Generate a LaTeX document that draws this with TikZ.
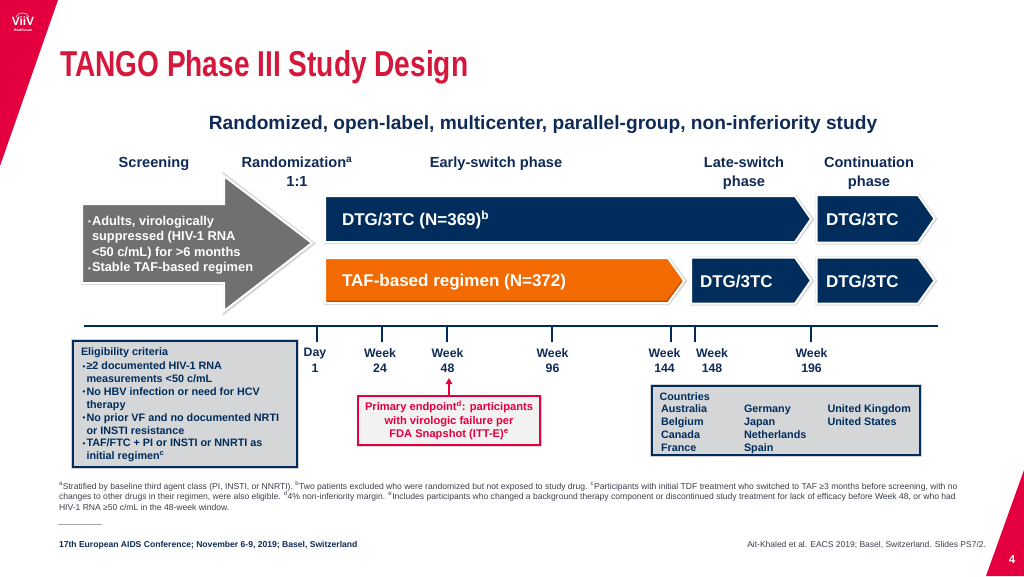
\documentclass[tikz,border=0pt]{standalone}
\usepackage{fontspec}
\usepackage{graphicx}
\setmainfont{Liberation Sans}
\usetikzlibrary{arrows.meta,positioning}
\definecolor{navy}{HTML}{002D5C}
\definecolor{hdr}{HTML}{0F2A55}
\definecolor{crim}{HTML}{E4003F}
\definecolor{titlered}{HTML}{D5173C}
\definecolor{boxgrey}{HTML}{D5D6D8}
\definecolor{arrowgrey}{HTML}{707070}
\definecolor{orng}{HTML}{F26A00}
\definecolor{note}{HTML}{3A3F4A}
\newcommand{\fs}[2]{\fontsize{#1}{#2}\selectfont}
\newcommand{\bul}{\llap{\raisebox{0.8pt}{\fs{8}{8}•}\hspace{1pt}}}
\tikzset{
  x=1pt,y=-1pt,
  every node/.style={inner sep=0pt,outer sep=0pt},
  hd/.style={font=\bfseries\fs{14.6}{18.5},text=hdr,align=center},
  tk/.style={font=\bfseries\fs{12.3}{15.2},text=hdr,align=center,anchor=north},
  armlabel/.style={font=\bfseries\fs{17}{18},text=white,anchor=west},
  elig/.style={font=\bfseries\fs{10.8}{12.85},text=navy,align=left,anchor=north west},
  fn/.style={font=\fs{8.56}{10.45},text=note,align=left,anchor=north west},
  pent/.style={fill=navy,draw=white,line width=2pt,line join=miter},
  shad/.style={fill=black!35,draw=black!25,line width=3.2pt,opacity=.6},
  tick/.style={draw=navy,line width=2.2pt},
  infobox/.style={fill=boxgrey,draw=navy,line width=1.8pt},
  boxshad/.style={fill=black!40,draw=black!25,line width=2.5pt,opacity=.7},
}
\begin{document}
\begin{tikzpicture}
\useasboundingbox (0,0) rectangle (1024,576);
% corner wedges
\fill[crim] (0,0) -- (58,0) -- (0,166) -- cycle;
\fill[crim] (1024,470) -- (1024,576) -- (986,576) -- cycle;
% logo
\node (logoV) at (23,21.5) {\textcolor{white}{\bfseries\fs{12}{12}ViiV}};
\draw[white,line width=.5pt] (16,17) .. controls (18,11.5) and (27,11.5) .. (29,17);
\node (logoH) at (23,30) {\textcolor{white}{\bfseries\fs{3.6}{4}Healthcare}};
\node (pageno) at (1012,559.5) {\textcolor{white}{\bfseries\fs{11.5}{12}4}};
% title
\node[anchor=base west,text=titlered] (title) at (60,76) {\scalebox{0.78}[1]{\bfseries\fs{36}{38}TANGO Phase III Study Design}};
\node[hd,font=\bfseries\fs{19.15}{20}] (sub) at (543,124.5) {Randomized, open-label, multicenter, parallel-group, non-inferiority study};
% column headers
\node[hd,anchor=north] (h1) at (154,157) {Screening};
\node[hd,anchor=north] (h2) at (297,157) {Randomization\textsuperscript{a}\\1:1};
\node[hd,anchor=north] (h3) at (496,157) {Early-switch phase};
\node[hd,anchor=north] (h4) at (744,157) {Late-switch\\phase};
\node[hd,anchor=north] (h5) at (869,157) {Continuation\\phase};
% big arrow
\draw[shad] (82.5,204.5)--(224.5,204.5)--(224.5,175)--(313.5,243.5)--(224.5,312.5)--(224.5,283.5)--(82.5,283.5)--cycle;
\draw[fill=arrowgrey,draw=white,line width=2pt] (82,204)--(224,204)--(224,176)--(312,243)--(224,311)--(224,283)--(82,283)--cycle;
\node[font=\bfseries\fs{12.85}{15.5},text=white,align=left,anchor=north west] (scr) at (92,216)
 {\bul Adults, virologically\\suppressed (HIV-1 RNA\\<50 c/mL) for >6 months\\\bul Stable TAF-based regimen};
% pentagons
\draw[shad] (325.5,196.5)--(795.5,196.5)--(812.5,219.5)--(795.5,242.5)--(325.5,242.5)--cycle;
\draw[pent] (325,196)--(795,196)--(811,219)--(795,242)--(325,242)--cycle;
\draw[shad] (325.5,258.5)--(668.5,258.5)--(685.5,281)--(668.5,303.5)--(325.5,303.5)--cycle;
\draw[fill=orng,draw=white,line width=2pt] (325,258)--(668,258)--(684,280.5)--(668,303)--(325,303)--cycle;
\draw[orng!75!black,line width=1.2pt] (327,301.3)--(667,301.3)--(682,281);
\draw[shad] (691.5,258)--(795.5,258)--(812.5,281)--(795.5,304)--(691.5,304)--cycle;
\draw[pent] (691,257.5)--(795,257.5)--(811,280.5)--(795,303.5)--(691,303.5)--cycle;
\draw[shad] (817,195.5)--(918.5,195.5)--(935.5,219)--(918.5,243)--(817,243)--cycle;
\draw[pent] (816.5,195)--(918,195)--(934.5,218.5)--(918,242.5)--(816.5,242.5)--cycle;
\draw[shad] (817,258)--(918.5,258)--(935.5,281)--(918.5,304)--(817,304)--cycle;
\draw[pent] (816.5,257.5)--(918,257.5)--(934.5,280.5)--(918,303.5)--(816.5,303.5)--cycle;
\node[armlabel] (a1) at (342,220) {DTG/3TC (N=369)\textsuperscript{b}};
\node[armlabel] (a2) at (342,282) {TAF-based regimen (N=372)};
\node[armlabel] (a3) at (700,282) {DTG/3TC};
\node[armlabel] (a4) at (826,219.5) {DTG/3TC};
\node[armlabel] (a5) at (826,282) {DTG/3TC};
% timeline
\draw[navy,line width=2.4pt] (84,326)--(938,326);
\foreach \x in {317,382,447,552,671,695,811} \draw[tick] (\x,326)--(\x,342);
\node[tk] (d1) at (315,348.5) {Day\\1};
\node[tk] (w24) at (380,348.5) {Week\\24};
\node[tk] (w48) at (447.5,348.5) {Week\\48};
\node[tk] (w96) at (552.5,348.5) {Week\\96};
\node[tk] (w144) at (664.5,348.5) {Week\\144};
\node[tk] (w148) at (712,348.5) {Week\\148};
\node[tk] (w196) at (811.5,348.5) {Week\\196};
% eligibility
\draw[boxshad] (72,340) rectangle (298,468);
\draw[infobox] (73,341) rectangle (297,467);
\node[elig] (eligh) at (81,348) {Eligibility criteria};
\node[elig] (eligt) at (86.5,362)
 {\bul ≥2 documented HIV-1 RNA\\measurements <50 c/mL\\\bul No HBV infection or need for HCV\\therapy\\\bul No prior VF and no documented NRTI\\or INSTI resistance\\\bul TAF/FTC + PI or INSTI or NNRTI as\\initial regimen\textsuperscript{c}};
% primary endpoint
\draw[fill=black!30,draw=black!25,line width=2.5pt,opacity=.6] (358,396.5) rectangle (541,446);
\node[draw=crim,line width=1.5pt,fill=black!5,minimum width=182pt,minimum height=49pt,anchor=north west,
  font=\bfseries\fs{11.15}{13.4},text=crim,align=center] (prim) at (358,396)
 {Primary endpoint\textsuperscript{d}: participants\\with virologic failure per\\FDA Snapshot (ITT-E)\textsuperscript{e}};
\coordinate (primtop) at (449,396);
\coordinate (w48low) at (449,378);
\draw[crim,line width=1.8pt,-{Triangle[length=6pt,width=6.5pt]}] (primtop)--(w48low);
% countries
\draw[boxshad] (651,385) rectangle (921,456);
\draw[infobox] (652,386) rectangle (920,455);
\node[elig] (ch) at (659.5,392.5) {Countries};
\node[elig] (c1) at (661,405) {Australia\\Belgium\\Canada\\France};
\node[elig] (c2) at (744,405) {Germany\\Japan\\Netherlands\\Spain};
\node[elig] (c3) at (827.5,405) {United Kingdom\\United States};
% footnotes
\node[fn] (notes) at (59,481)
 {\textsuperscript{a}Stratified by baseline third agent class (PI, INSTI, or NNRTI). \textsuperscript{b}Two patients excluded who were randomized but not exposed to study drug. \textsuperscript{c}Participants with initial TDF treatment who switched to TAF ≥3 months before screening, with no\\
 changes to other drugs in their regimen, were also eligible. \textsuperscript{d}4\% non-inferiority margin. \textsuperscript{e}Includes participants who changed a background therapy component or discontinued study treatment for lack of efficacy before Week 48, or who had\\
 HIV-1 RNA ≥50 c/mL in the 48-week window.};
\draw[black!35,line width=.5pt] (58,524)--(102,524);
\node[anchor=base west,font=\bfseries\fs{8.58}{10},text=hdr] (conf) at (59,547) {17th European AIDS Conference; November 6-9, 2019; Basel, Switzerland};
\node[anchor=base east,font=\fs{8.5}{10},text=note] (cite) at (986,547.5) {Ait-Khaled et al. EACS 2019; Basel, Switzerland. Slides PS7/2.};
\end{tikzpicture}
\end{document}
